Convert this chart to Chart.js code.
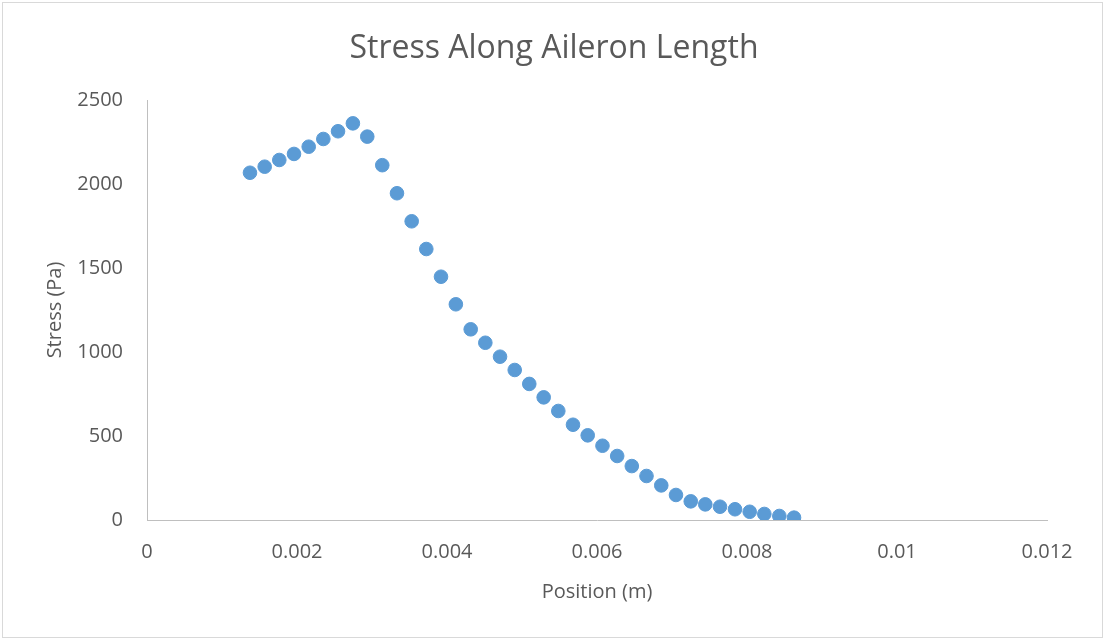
<!DOCTYPE html>
<html>
<head>
<meta charset="utf-8">
<title>Stress Along Aileron Length</title>
<script src="https://cdn.jsdelivr.net/npm/chart.js@4"></script>
<style>
  html, body { margin: 0; padding: 0; background: #fff; }
  #wrap { position: relative; width: 1108px; height: 639px; }
  #frame {
    position: absolute; left: 2px; top: 2px; width: 1099px; height: 634px;
    border: 1px solid #D9D9D9; pointer-events: none;
  }
  canvas { position: absolute; left: 0; top: 0; }
</style>
</head>
<body>
<div id="wrap">
  <canvas id="stressChart" width="1108" height="639"></canvas>
  <div id="frame"></div>
</div>
<script>
// ── Data ──────────────────────────────────────────────────────
const positions = [
  0.001373, 0.001569, 0.001764, 0.001960, 0.002156, 0.002351, 0.002547, 0.002745,
  0.002937, 0.003137, 0.003333, 0.003529, 0.003724, 0.003920, 0.004118, 0.004316,
  0.004511, 0.004707, 0.004903, 0.005097, 0.005289, 0.005484, 0.005680, 0.005876,
  0.006073, 0.006269, 0.006464, 0.006660, 0.006857, 0.007053, 0.007250, 0.007444,
  0.007640, 0.007840, 0.008036, 0.008231, 0.008431, 0.008627
];
const stress = [
  2067, 2103, 2143, 2179, 2222, 2268, 2314, 2361,
  2282, 2112, 1945, 1778, 1613, 1448, 1284, 1135,
  1055, 972, 893, 810, 730, 649, 567, 504,
  442, 381, 321, 262, 206, 149, 111, 93,
  79, 64, 49, 36, 24, 14
];
const xTickLabels = ['0', '0.002', '0.004', '0.006', '0.008', '0.01', '0.012'];
const yTickLabels = ['0', '500', '1000', '1500', '2000', '2500'];

const FONT = '"Open Sans", "Noto Sans", sans-serif';
const TEXT = '#595959';
const AXIS = '#BFBFBF';
const BLUE = '#5B9BD5';

// ── Chart ─────────────────────────────────────────────────────
const ctx = document.getElementById('stressChart').getContext('2d');
new Chart(ctx, {
  type: 'scatter',
  data: {
    datasets: [{
      label: 'Stress',
      data: positions.map((x, i) => ({ x, y: stress[i] })),
      backgroundColor: BLUE,
      borderColor: BLUE,
      borderWidth: 1,
      pointRadius: 6.8,
      pointHoverRadius: 6.8
    }]
  },
  options: {
    responsive: false,
    animation: false,
    devicePixelRatio: 1,
    layout: { padding: 0 },
    plugins: {
      legend: { display: false },
      tooltip: { enabled: false },
      title: {
        display: true,
        text: 'Stress Along Aileron Length',
        color: TEXT,
        font: { family: FONT, size: 32, weight: 'normal' },
        padding: { top: 30, bottom: 31.6 }
      }
    },
    scales: {
      x: {
        type: 'linear',
        min: 0, max: 0.012,
        afterFit: s => { s.height = 119; },
        afterBuildTicks: s => {
          s.ticks = xTickLabels.map((_, i) => ({ value: i * 0.002 }));
        },
        grid: { display: false, drawTicks: false },
        border: { display: true, color: AXIS, width: 1 },
        ticks: {
          padding: 20,
          color: TEXT,
          font: { family: FONT, size: 20 },
          callback: (v, i) => xTickLabels[i]
        },
        title: {
          display: true,
          text: 'Position (m)',
          color: TEXT,
          font: { family: FONT, size: 20 },
          padding: { top: 0, bottom: 35 }
        }
      },
      y: {
        type: 'linear',
        min: 0, max: 2500,
        afterFit: s => { s.width = 147; },
        afterBuildTicks: s => {
          s.ticks = yTickLabels.map(t => ({ value: +t }));
        },
        grid: { display: false, drawTicks: false },
        border: { display: true, color: AXIS, width: 1 },
        ticks: {
          padding: 24,
          color: TEXT,
          font: { family: FONT, size: 20 },
          callback: (v, i) => yTickLabels[i]
        },
        title: {
          display: true,
          text: 'Stress (Pa)',
          color: TEXT,
          font: { family: FONT, size: 20 },
          padding: { top: 43, bottom: 0 }
        }
      },
      // empty right margin so the title centres on the whole frame
      yRight: {
        type: 'linear',
        position: 'right',
        min: 0, max: 2500,
        afterFit: s => { s.width = 61; },
        grid: { display: false, drawTicks: false },
        border: { display: false },
        ticks: { display: false }
      }
    }
  }
});
</script>
</body>
</html>
